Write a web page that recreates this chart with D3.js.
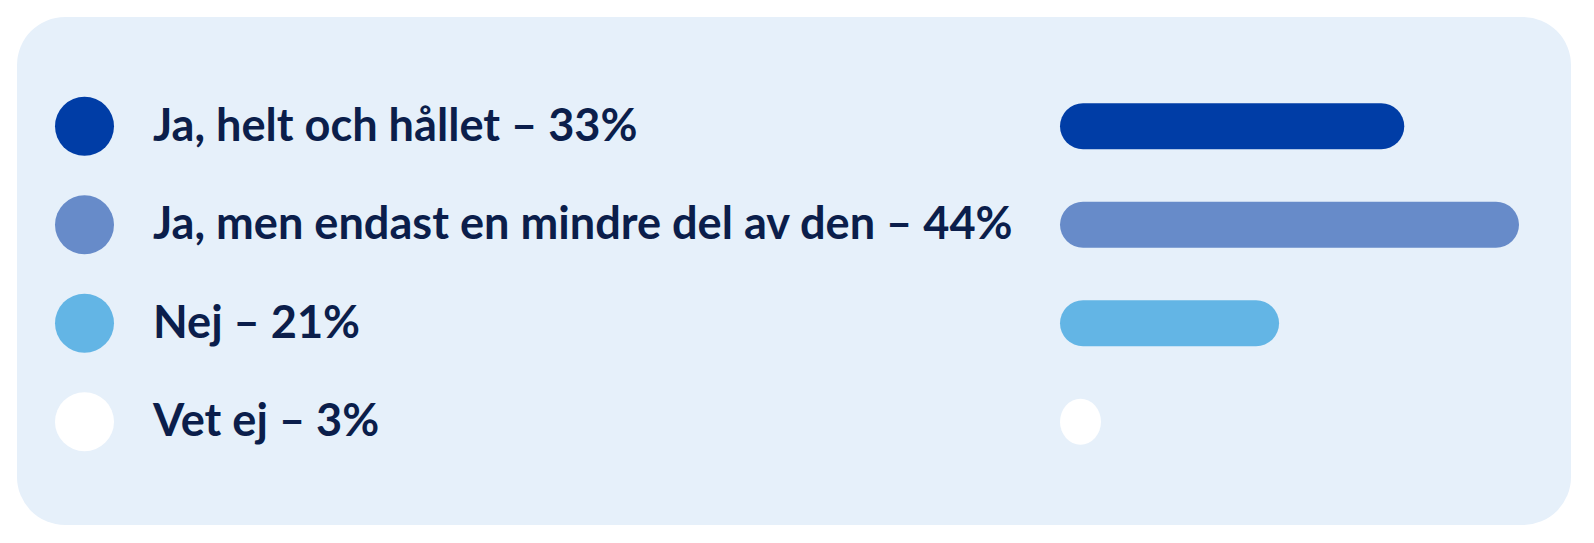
<!DOCTYPE html>
<html>
<head>
<meta charset="utf-8">
<script src="https://cdn.jsdelivr.net/npm/d3@7"></script>
<style>
html,body{margin:0;padding:0;background:#fff;}
svg{display:block;}
</style>
</head>
<body>
<svg id="chart" width="1594" height="543"></svg>
<script>
const categories = ["Ja, helt och hållet", "Ja, men endast en mindre del av den", "Nej", "Vet ej"];
const values = [33, 44, 21, 3];
const colors = ["#003DA6", "#678BC9", "#63B5E5", "#FFFFFF"];

const svg = d3.select("#chart");

svg.append("rect")
  .attr("x", 17).attr("y", 17)
  .attr("width", 1554).attr("height", 508)
  .attr("rx", 48).attr("ry", 48)
  .attr("fill", "#E6F0FA");

const y = d3.scalePoint()
  .domain(categories)
  .range([126.3, 421.7]);

const barX0 = 1060;
const x = d3.scaleLinear().domain([0, 44]).range([0, 459]);

const barH = 46;
const rows = svg.selectAll("g.row").data(categories).enter().append("g").attr("class", "row")
  .attr("transform", d => `translate(0, ${y(d)})`);

rows.append("circle")
  .attr("cx", 84.5).attr("cy", 0).attr("r", 29.5)
  .attr("fill", (d,i) => colors[i]);

const labels = rows.append("text")
  .attr("x", 153).attr("y", 14.5)
  .attr("font-family", "Lato, 'Noto Sans', sans-serif")
  .attr("font-weight", 700)
  .attr("font-size", 40)
  .attr("fill", "#0B1E4B")
  .text((d,i) => `${d} – ${values[i]}%`);

// fit longest label width to reference (~860px)
const longest = labels.nodes()[1].getComputedTextLength();
const fs = 40 * 860 / longest;
labels.attr("font-size", fs);

rows.append("rect")
  .attr("x", barX0)
  .attr("y", -barH/2)
  .attr("height", barH)
  .attr("width", (d,i) => Math.max(41, x(values[i])))
  .attr("rx", (d,i) => Math.min(barH/2, Math.max(41, x(values[i]))/2))
  .attr("ry", barH/2)
  .attr("fill", (d,i) => colors[i]);
</script>
</body>
</html>
